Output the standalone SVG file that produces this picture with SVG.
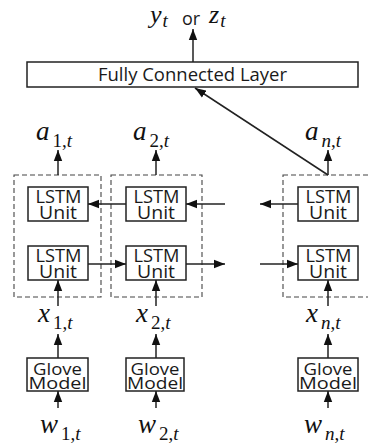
<svg xmlns="http://www.w3.org/2000/svg" width="368" height="443" viewBox="0 0 368 443">
<style>
.box{fill:#fff;stroke:#222;stroke-width:1.5}
.dash{fill:none;stroke:#444;stroke-width:1.1;stroke-dasharray:5,3}
.lbl{font-family:"Open Sans","Noto Sans",sans-serif;font-size:18px;fill:#1a1a1a;text-anchor:middle}
.ls{font-size:17.5px}
.gl{font-size:15.5px}
.m{font-family:"Liberation Serif",serif;font-style:italic;font-size:27px;fill:#111}
.s{font-size:19px;font-style:normal}
.i{font-style:italic}
.c line{stroke:#222;stroke-width:1.5;marker-end:url(#ah)}
</style>
<defs>
<marker id="ah" markerUnits="userSpaceOnUse" markerWidth="11" markerHeight="10" viewBox="0 0 11 10" refX="11" refY="5" orient="auto">
<path d="M0,0.8 L11,5 L0,9.2 z" fill="#111"/>
</marker>
</defs>
<g id="output">
<text x="150" y="23" class="m" style="font-size:26px">y<tspan class="s i" dx="1" dy="4">t</tspan></text>
<text x="182" y="25" style="font-family:'Open Sans',sans-serif;font-size:18px;fill:#1a1a1a">or</text>
<text x="209" y="23" class="m" style="font-size:26px">z<tspan class="s i" dx="1" dy="4">t</tspan></text>
</g>
<g id="fc">
<rect class="box" x="27" y="62" width="331" height="25"/>
<text x="192.5" y="80.5" class="lbl" textLength="189" lengthAdjust="spacingAndGlyphs">Fully Connected Layer</text>
</g>
<g id="col1-dashed"><rect class="dash" x="14" y="175" width="87" height="122"/></g>
<g id="col2-dashed"><rect class="dash" x="111" y="175" width="91" height="122"/></g>
<g id="coln-dashed"><rect class="dash" x="283" y="175" width="95" height="122"/></g>
<g id="lstm-b1"><rect class="box" x="28" y="187" width="60" height="34"/><text class="lbl ls"><tspan x="58.5" y="202.5" textLength="46" lengthAdjust="spacingAndGlyphs">LSTM</tspan><tspan x="58" y="218.5" textLength="38" lengthAdjust="spacingAndGlyphs">Unit</tspan></text></g>
<g id="lstm-b2"><rect class="box" x="126" y="187" width="60" height="34"/><text class="lbl ls"><tspan x="156.5" y="202.5" textLength="46" lengthAdjust="spacingAndGlyphs">LSTM</tspan><tspan x="156" y="218.5" textLength="38" lengthAdjust="spacingAndGlyphs">Unit</tspan></text></g>
<g id="lstm-bn"><rect class="box" x="298" y="187" width="60" height="34"/><text class="lbl ls"><tspan x="328.5" y="202.5" textLength="46" lengthAdjust="spacingAndGlyphs">LSTM</tspan><tspan x="328" y="218.5" textLength="38" lengthAdjust="spacingAndGlyphs">Unit</tspan></text></g>
<g id="lstm-f1"><rect class="box" x="28" y="246" width="60" height="34"/><text class="lbl ls"><tspan x="58.5" y="261.5" textLength="46" lengthAdjust="spacingAndGlyphs">LSTM</tspan><tspan x="58" y="277.5" textLength="38" lengthAdjust="spacingAndGlyphs">Unit</tspan></text></g>
<g id="lstm-f2"><rect class="box" x="126" y="246" width="60" height="34"/><text class="lbl ls"><tspan x="156.5" y="261.5" textLength="46" lengthAdjust="spacingAndGlyphs">LSTM</tspan><tspan x="156" y="277.5" textLength="38" lengthAdjust="spacingAndGlyphs">Unit</tspan></text></g>
<g id="lstm-fn"><rect class="box" x="298" y="246" width="60" height="34"/><text class="lbl ls"><tspan x="328.5" y="261.5" textLength="46" lengthAdjust="spacingAndGlyphs">LSTM</tspan><tspan x="328" y="277.5" textLength="38" lengthAdjust="spacingAndGlyphs">Unit</tspan></text></g>
<g id="glove1"><rect class="box" x="27" y="358" width="61" height="33"/><text class="lbl gl"><tspan x="57.5" y="374.5" textLength="49" lengthAdjust="spacingAndGlyphs">Glove</tspan><tspan x="57.5" y="388.5" textLength="58" lengthAdjust="spacingAndGlyphs">Model</tspan></text></g>
<g id="glove2"><rect class="box" x="126" y="358" width="58" height="33"/><text class="lbl gl"><tspan x="155" y="374.5" textLength="49" lengthAdjust="spacingAndGlyphs">Glove</tspan><tspan x="155" y="388.5" textLength="56" lengthAdjust="spacingAndGlyphs">Model</tspan></text></g>
<g id="gloven"><rect class="box" x="298" y="358" width="60" height="33"/><text class="lbl gl"><tspan x="328" y="374.5" textLength="49" lengthAdjust="spacingAndGlyphs">Glove</tspan><tspan x="328" y="388.5" textLength="58" lengthAdjust="spacingAndGlyphs">Model</tspan></text></g>
<g id="a-labels">
<text x="36" y="140" class="m">a<tspan class="s" dx="3" dy="7">1,<tspan class="i">t</tspan></tspan></text>
<text x="133" y="140" class="m">a<tspan class="s" dx="3" dy="7">2,<tspan class="i">t</tspan></tspan></text>
<text x="305" y="140" class="m">a<tspan class="s i" dx="3" dy="7">n<tspan style="font-style:normal">,</tspan>t</tspan></text>
</g>
<g id="x-labels">
<text x="38" y="322" class="m">x<tspan class="s" dx="3" dy="7">1,<tspan class="i">t</tspan></tspan></text>
<text x="136" y="322" class="m">x<tspan class="s" dx="3" dy="7">2,<tspan class="i">t</tspan></tspan></text>
<text x="306" y="322" class="m">x<tspan class="s i" dx="3" dy="7">n<tspan style="font-style:normal">,</tspan>t</tspan></text>
</g>
<g id="w-labels">
<text x="40" y="433" class="m">w<tspan class="s" dx="3" dy="7">1,<tspan class="i">t</tspan></tspan></text>
<text x="138" y="433" class="m">w<tspan class="s" dx="3" dy="7">2,<tspan class="i">t</tspan></tspan></text>
<text x="304" y="433" class="m">w<tspan class="s i" dx="3" dy="7">n<tspan style="font-style:normal">,</tspan>t</tspan></text>
</g>
<g id="connectors" class="c">
<line x1="193" y1="62" x2="193" y2="29"/>
<line x1="328" y1="175" x2="195" y2="88"/>
<line x1="58" y1="175" x2="58" y2="150"/>
<line x1="156" y1="175" x2="156" y2="150"/>
<line x1="328" y1="175" x2="328" y2="150"/>
<line x1="126" y1="204" x2="88" y2="204"/>
<line x1="225" y1="204" x2="186" y2="204"/>
<line x1="298" y1="204" x2="260" y2="204"/>
<line x1="88" y1="264" x2="126" y2="264"/>
<line x1="186" y1="264" x2="225" y2="264"/>
<line x1="260" y1="264" x2="298" y2="264"/>
<line x1="58" y1="306" x2="58" y2="280"/>
<line x1="156" y1="306" x2="156" y2="280"/>
<line x1="328" y1="306" x2="328" y2="280"/>
<line x1="58" y1="358" x2="58" y2="334"/>
<line x1="156" y1="358" x2="156" y2="334"/>
<line x1="328" y1="358" x2="328" y2="334"/>
<line x1="58" y1="408" x2="58" y2="391"/>
<line x1="156" y1="408" x2="156" y2="391"/>
<line x1="328" y1="408" x2="328" y2="391"/>
</g>
</svg>
